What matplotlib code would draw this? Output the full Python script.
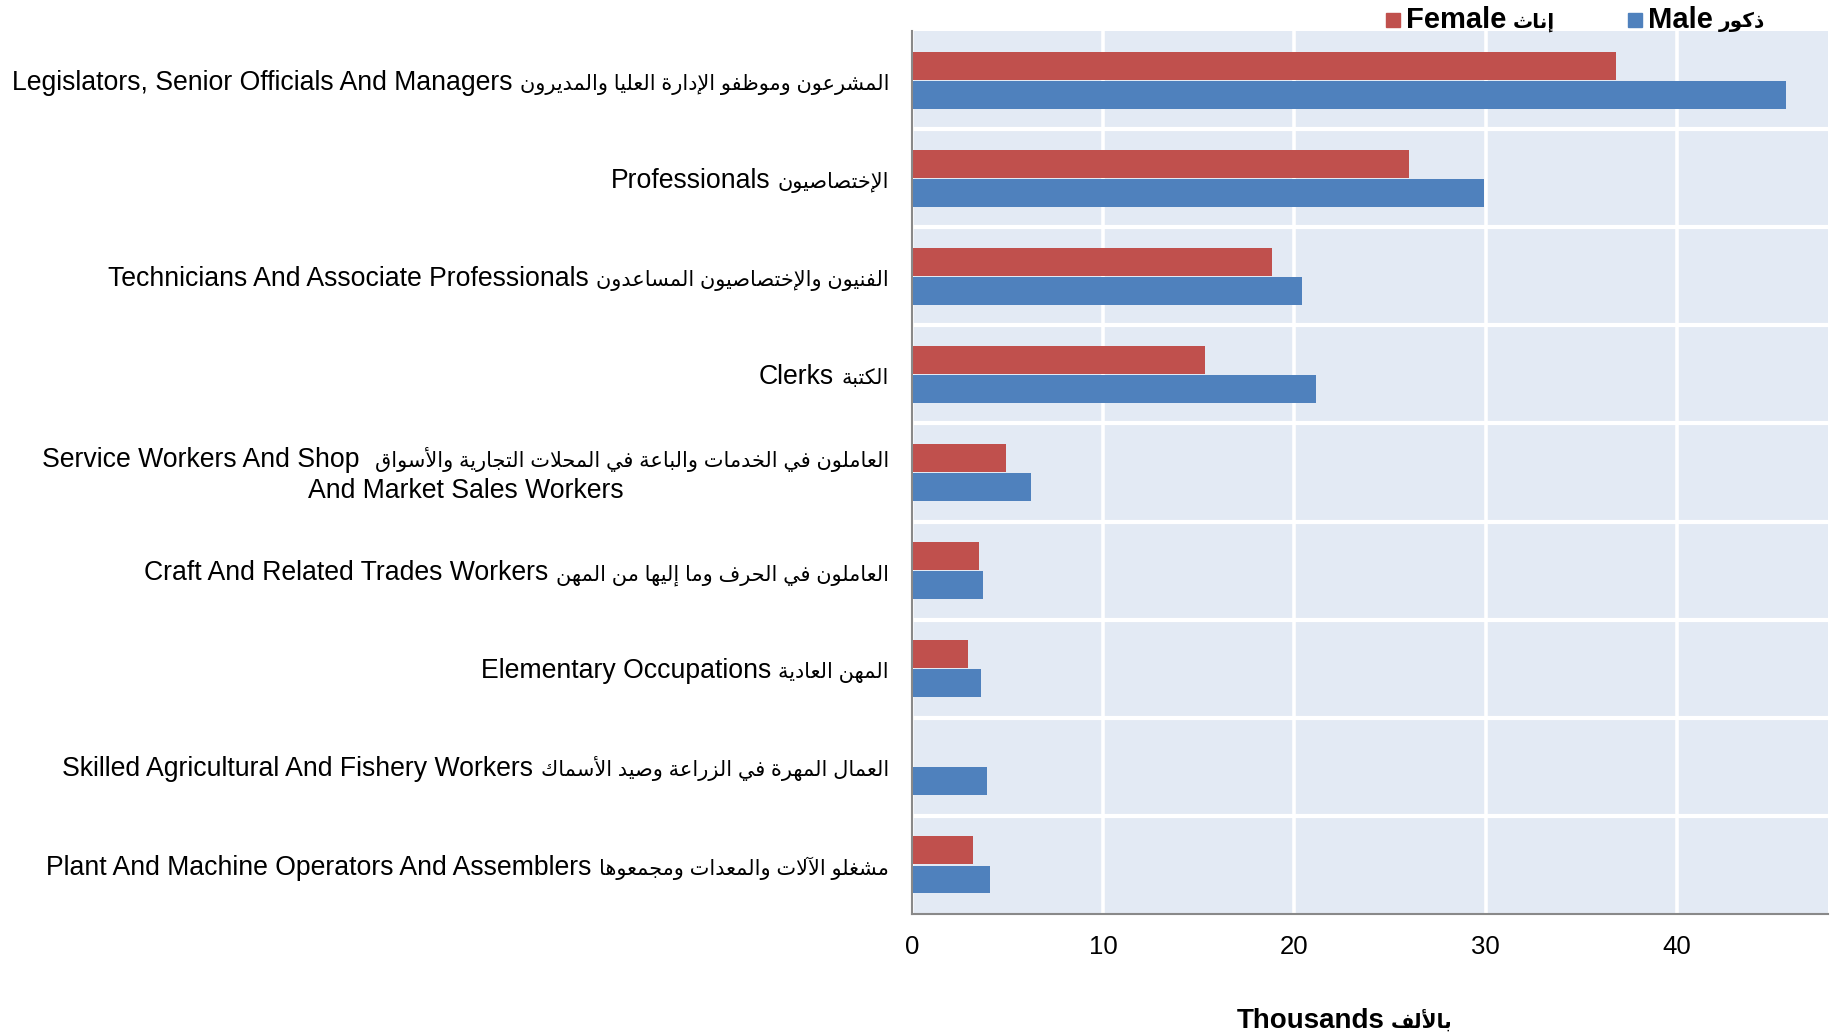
import numpy as np
import matplotlib
matplotlib.use("Agg")
import matplotlib.pyplot as plt
from matplotlib.patches import Rectangle
from matplotlib.transforms import IdentityTransform

plt.rcParams['font.family'] = ['Liberation Sans', 'DejaVu Sans']

# data (thousands)
cats_en = ['Legislators, Senior Officials And Managers',
           'Professionals',
           'Technicians And Associate Professionals',
           'Clerks',
           'Service Workers And Shop',
           'Craft And Related Trades Workers',
           'Elementary Occupations',
           'Skilled Agricultural And Fishery Workers',
           'Plant And Machine Operators And Assemblers']
cats_ar = ['المشرعون وموظفو الإدارة العليا والمديرون',
           'الإختصاصيون',
           'الفنيون والإختصاصيون المساعدون',
           'الكتبة',
           'العاملون في الخدمات والباعة في المحلات التجارية والأسواق',
           'العاملون في الحرف وما إليها من المهن',
           'المهن العادية',
           'العمال المهرة في الزراعة وصيد الأسماك',
           'مشغلو الآلات والمعدات ومجمعوها']
cats_extra = ['', '', '', '', 'And Market Sales Workers', '', '', '', '']
female = [36.8, 26.0, 18.8, 15.3, 4.9, 3.5, 2.9, 0.0, 3.2]
male = [45.7, 29.9, 20.4, 21.1, 6.2, 3.7, 3.6, 3.9, 4.1]
xticks = [0, 10, 20, 30, 40]

RED = '#C0504D'
BLUE = '#4F81BD'

# minimal arabic shaping: presentation forms + visual order
LETTERS = {'ء': (0xFE80, 1), 'آ': (0xFE81, 2), 'أ': (0xFE83, 2), 'ؤ': (0xFE85, 2),
           'إ': (0xFE87, 2), 'ئ': (0xFE89, 4), 'ا': (0xFE8D, 2), 'ب': (0xFE8F, 4),
           'ة': (0xFE93, 2), 'ت': (0xFE95, 4), 'ث': (0xFE99, 4), 'ج': (0xFE9D, 4),
           'ح': (0xFEA1, 4), 'خ': (0xFEA5, 4), 'د': (0xFEA9, 2), 'ذ': (0xFEAB, 2),
           'ر': (0xFEAD, 2), 'ز': (0xFEAF, 2), 'س': (0xFEB1, 4), 'ش': (0xFEB5, 4),
           'ص': (0xFEB9, 4), 'ض': (0xFEBD, 4), 'ط': (0xFEC1, 4), 'ظ': (0xFEC5, 4),
           'ع': (0xFEC9, 4), 'غ': (0xFECD, 4), 'ف': (0xFED1, 4), 'ق': (0xFED5, 4),
           'ك': (0xFED9, 4), 'ل': (0xFEDD, 4), 'م': (0xFEE1, 4), 'ن': (0xFEE5, 4),
           'ه': (0xFEE9, 4), 'و': (0xFEED, 2), 'ى': (0xFEEF, 2), 'ي': (0xFEF1, 4)}
LAMALEF = {'آ': 0xFEF5, 'أ': 0xFEF7, 'إ': 0xFEF9, 'ا': 0xFEFB}


def ar(s):
    toks = []
    i = 0
    while i < len(s):
        c = s[i]
        if c == 'ل' and i + 1 < len(s) and s[i + 1] in LAMALEF:
            toks.append((LAMALEF[s[i + 1]], 2))
            i += 2
            continue
        toks.append(LETTERS.get(c, (c, 0)))
        i += 1
    out = []
    for j, (v, n) in enumerate(toks):
        if n == 0:
            out.append(v)
            continue
        jp = j > 0 and toks[j - 1][1] == 4
        jn = n == 4 and j + 1 < len(toks) and toks[j + 1][1] >= 2
        if n == 1:
            k = 0
        elif n == 2:
            k = 1 if jp else 0
        else:
            k = 3 if (jp and jn) else 1 if jp else 2 if jn else 0
        out.append(chr(v + k))
    return ''.join(reversed(out))


fig = plt.figure(figsize=(18.3, 10.32), dpi=100)
ax = fig.add_axes([0.4984, 0.1143, 0.5005, 0.8556])
ax.set_facecolor('#E3EAF4')
renderer = fig.canvas.get_renderer()
PX = IdentityTransform()


def chain(pieces, x, ybase, align='right', gap=7.5):
    # pieces: (text, size, weight); drawn left to right on one baseline, pixel coords
    arts = [fig.text(0, ybase, t, fontsize=sz, fontweight=w, ha='left',
                     va='baseline', transform=PX) for t, sz, w in pieces]
    widths = [a.get_window_extent(renderer).width for a in arts]
    total = sum(widths) + gap * (len(arts) - 1)
    x0 = x - total if align == 'right' else x - total / 2 if align == 'center' else x
    cx = x0
    for a, wd in zip(arts, widths):
        a.set_position((cx, ybase))
        cx += wd + gap
    return x0, total


y = np.arange(len(cats_en))
h = 0.285
ax.barh(y - 0.148, female, height=h, color=RED, zorder=3)
ax.barh(y + 0.148, male, height=h, color=BLUE, zorder=3)

ax.set_ylim(len(cats_en) - 0.5, -0.5)
ax.set_xlim(0, 47.9)
ax.set_xticks(xticks)
ax.set_yticks(y)
ax.set_yticklabels([])
ax.set_yticks(np.arange(0.5, len(cats_en) - 1, 1), minor=True)
ax.tick_params(axis='x', labelsize=18.5, length=0, pad=15)
ax.tick_params(axis='y', which='both', length=0)
ax.grid(axis='x', color='white', linewidth=2.6, zorder=1)
ax.grid(axis='y', which='minor', color='white', linewidth=3, zorder=1)
ax.set_axisbelow(True)
for s in ['top', 'right']:
    ax.spines[s].set_visible(False)
for s in ['left', 'bottom']:
    ax.spines[s].set_color('#898989')
    ax.spines[s].set_linewidth(1.5)
    ax.spines[s].set_zorder(4)

# category labels: english + arabic, right aligned beside the axis
EN_SIZE = 19.2
label_right = ax.transAxes.transform((0, 0))[0] - 23
half_cap = 0.716 * EN_SIZE * 100 / 72 / 2
for yi, en, a, ex in zip(y, cats_en, cats_ar, cats_extra):
    yc = ax.transData.transform((0, yi))[1]
    pieces = [(en, EN_SIZE, 'normal'), (ar(a), 15, 'normal')]
    if ex:
        x0, tw = chain(pieces, label_right, yc + 15.5 - half_cap, gap=15)
        chain([(ex, EN_SIZE, 'normal')], x0 + tw / 2, yc - 15.5 - half_cap, align='center')
    else:
        chain(pieces, label_right, yc - half_cap)

# legend
H = 1032
for col, en, a, xs in [(RED, 'Female', 'إناث', 1386), (BLUE, 'Male', 'ذكور', 1628)]:
    fig.add_artist(Rectangle((xs, H - 27), 14, 14, color=col, transform=PX))
    chain([(en, 21, 'bold'), (ar(a), 14.5, 'bold')], xs + 20, H - 20 - 7.5,
          align='left', gap=6)

# x axis title
chain([('Thousands', 20, 'bold'), (ar('بالألف'), 14.5, 'bold')], 1345, 4.5,
      align='center', gap=6)

fig.savefig('out.png', dpi=100)
